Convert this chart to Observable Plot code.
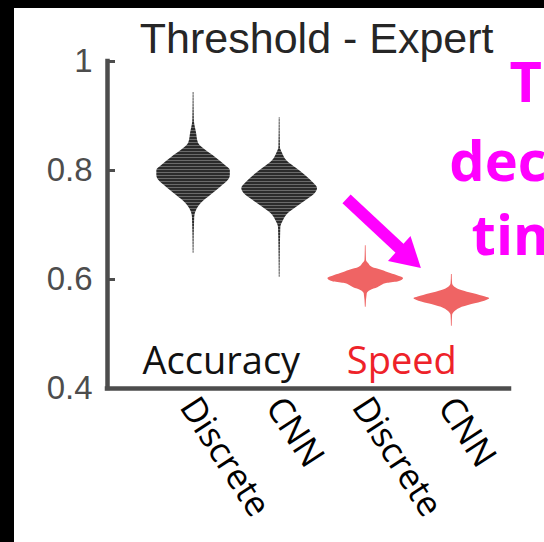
<!DOCTYPE html>
<html>
<head>
<meta charset="utf-8">
<script src="https://cdn.jsdelivr.net/npm/d3@7"></script>
<script src="https://cdn.jsdelivr.net/npm/@observablehq/plot@0.6"></script>
<style>
  html, body { margin: 0; padding: 0; background: #000; overflow: hidden; }
  #chart { position: absolute; left: 14px; top: 8px; width: 530px; height: 534px; background: #fff; overflow: hidden; }
</style>
</head>
<body>
<div id="chart"></div>
<script>
// Categories along the x axis
const groups = ["Accuracy", "Accuracy", "Speed", "Speed"];
const methods = ["Discrete", "CNN", "Discrete", "CNN"];

// Y axis ticks
const yTicks = [0.4, 0.6, 0.8, 1];
const yTickLabels = ["0.4", "0.6", "0.8", "1"];

// Violin profiles: threshold value and relative density (peak = 1)
const accDiscreteValue   = [0.943, 0.892, 0.868, 0.850, 0.837, 0.824, 0.809, 0.800, 0.791, 0.782, 0.769, 0.754, 0.740, 0.727, 0.714, 0.648];
const accDiscreteDensity = [0.01, 0.02, 0.08, 0.13, 0.32, 0.58, 0.84, 0.97, 0.97, 0.92, 0.71, 0.45, 0.21, 0.08, 0.03, 0.01];
const accCnnValue        = [0.897, 0.842, 0.833, 0.818, 0.804, 0.791, 0.778, 0.767, 0.758, 0.745, 0.732, 0.721, 0.708, 0.695, 0.604];
const accCnnDensity      = [0.01, 0.02, 0.065, 0.19, 0.44, 0.68, 0.88, 1.0, 0.94, 0.70, 0.44, 0.23, 0.10, 0.03, 0.01];
const spdDiscreteValue   = [0.662, 0.635, 0.629, 0.622, 0.617, 0.611, 0.606, 0.602, 0.596, 0.593, 0.585, 0.580, 0.574, 0.549];
const spdDiscreteDensity = [0.01, 0.02, 0.08, 0.18, 0.42, 0.66, 0.87, 1.0, 0.87, 0.58, 0.32, 0.13, 0.04, 0.01];
const spdCnnValue        = [0.609, 0.592, 0.586, 0.580, 0.574, 0.568, 0.565, 0.560, 0.554, 0.547, 0.541, 0.534, 0.514];
const spdCnnDensity      = [0.01, 0.02, 0.08, 0.26, 0.58, 0.89, 1.0, 0.87, 0.53, 0.21, 0.08, 0.02, 0.01];

// Annotation text and arrow (data coordinates)
const title = "Threshold - Expert";
const groupLabels = ["Accuracy", "Speed"];
const groupLabelX = [0.407, 2.78];
const groupLabelY = 0.449;
const noteLines = ["The", "decision", "time"];
const noteX = [4.67, 3.97, 4.23];
const noteY = [0.958, 0.8145, 0.677];
const arrowFrom = [2.777, 0.748];
const arrowTo = [3.40, 0.656];
const arrowHead = [3.473, 0.645];

const xMax = 4.67;
const halfWidth = 0.44; // violin half-width at peak density, in category units
const darkFill = "url(#violin-stripes)";
const redFill = "#ef6464";
const axisColor = "#4d4d4d";

const violins = [
  {value: accDiscreteValue, density: accDiscreteDensity, fill: darkFill},
  {value: accCnnValue, density: accCnnDensity, fill: darkFill},
  {value: spdDiscreteValue, density: spdDiscreteDensity, fill: redFill},
  {value: spdCnnValue, density: spdCnnDensity, fill: redFill}
];

const violinMarks = violins.map((v, i) => {
  const pos = i + 1;
  const rows = v.value.map((y, j) => ({y, w: v.density[j]})).sort((a, b) => a.y - b.y);
  return Plot.areaX(rows, {
    y: "y",
    x1: d => pos - halfWidth * d.w,
    x2: d => pos + halfWidth * d.w,
    fill: v.fill,
    curve: "monotone-y"
  });
});

const chart = Plot.plot({
  width: 530,
  height: 534,
  marginLeft: 93,
  marginRight: 35,
  marginTop: 53,
  marginBottom: 154,
  x: {domain: [0, xMax], axis: null},
  y: {domain: [0.4, 1], axis: null},
  style: {background: "white", overflow: "hidden"},
  marks: [
    ...violinMarks,
    // axes
    Plot.ruleX([0], {y1: 0.4, y2: 1, stroke: axisColor, strokeWidth: 4.5, strokeLinecap: "square"}),
    Plot.ruleY([0.4], {x1: 0, x2: xMax, stroke: axisColor, strokeWidth: 4.5, strokeLinecap: "square"}),
    Plot.ruleY(yTicks.slice(1), {x1: 0, x2: 0.093, stroke: axisColor, strokeWidth: 3}),
    Plot.axisY({ticks: yTicks, tickFormat: d => yTickLabels[yTicks.indexOf(d)], tickSize: 0, tickPadding: 15,
      label: null, fontSize: 33, fontFamily: "Liberation Sans", fill: axisColor}),
    // category labels
    Plot.text(methods, {x: (d, i) => i + 1, frameAnchor: "bottom", text: d => d, rotate: 57,
      textAnchor: "start", lineAnchor: "top", dx: 6, dy: 5, fontSize: 35, fontFamily: "Open Sans", fill: "#000"}),
    // group labels
    Plot.text(groupLabels, {x: (d, i) => groupLabelX[i], y: groupLabelY, text: d => d, textAnchor: "start",
      fontSize: 38, fontFamily: "Open Sans", fill: (d, i) => i === 0 ? "#111" : "#ee2229"}),
    // title
    Plot.text([title], {x: 2.43, y: 1.0411, text: d => d, fontSize: 43, fontFamily: "Liberation Sans", fill: "#262626"}),
    // arrow
    Plot.link([0], {x1: arrowFrom[0], y1: arrowFrom[1], x2: arrowTo[0], y2: arrowTo[1],
      stroke: "#ff00ff", strokeWidth: 12, strokeLinecap: "butt"}),
    Plot.dot([0], {x: arrowHead[0], y: arrowHead[1], symbol: "triangle", r: 12.5, rotate: 132, fill: "#ff00ff", stroke: null}),
    // note text
    Plot.text(noteLines, {x: (d, i) => noteX[i], y: (d, i) => noteY[i], text: d => d, textAnchor: "start",
      fontSize: 56, fontWeight: "bold", fontFamily: "Open Sans", fill: "#ff00ff"})
  ]
});

// Horizontal stripe pattern for the dark violins
const ns = "http://www.w3.org/2000/svg";
const defs = document.createElementNS(ns, "defs");
const pattern = document.createElementNS(ns, "pattern");
pattern.setAttribute("id", "violin-stripes");
pattern.setAttribute("patternUnits", "userSpaceOnUse");
pattern.setAttribute("width", "4");
pattern.setAttribute("height", "3");
const base = document.createElementNS(ns, "rect");
base.setAttribute("width", "4"); base.setAttribute("height", "3"); base.setAttribute("fill", "#2b2b2b");
const line = document.createElementNS(ns, "rect");
line.setAttribute("y", "2"); line.setAttribute("width", "4"); line.setAttribute("height", "1"); line.setAttribute("fill", "#6a6a6a");
pattern.appendChild(base); pattern.appendChild(line);
defs.appendChild(pattern);
chart.insertBefore(defs, chart.firstChild);

document.getElementById("chart").appendChild(chart);
</script>
</body>
</html>
